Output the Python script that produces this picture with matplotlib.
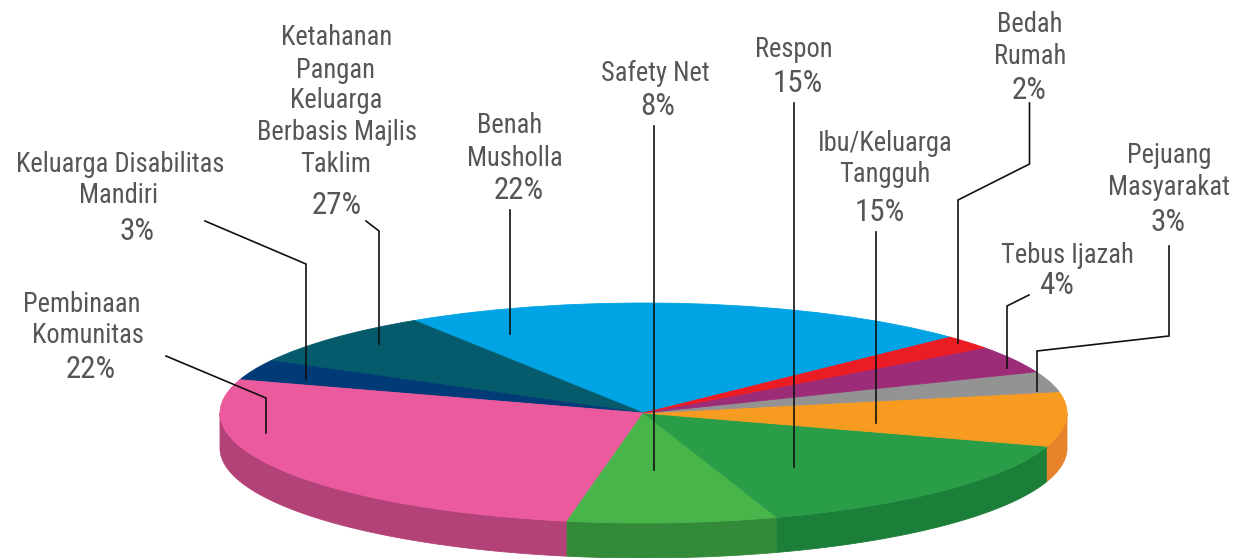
import numpy as np
import matplotlib
matplotlib.use("Agg")
import matplotlib.pyplot as plt
from matplotlib import font_manager

# ---------------- data ----------------
categories = ["Benah Musholla", "Ketahanan Pangan Keluarga Berbasis Majlis Taklim",
              "Keluarga Disabilitas Mandiri", "Pembinaan Komunitas", "Safety Net",
              "Respon", "Ibu/Keluarga Tangguh", "Pejuang Masyarakat", "Tebus Ijazah",
              "Bedah Rumah"]
slice_values = [22, 8, 3, 27, 8, 15, 8, 3, 4, 2]          # slice sizes as drawn
label_pcts = [22, 27, 3, 22, 8, 15, 15, 3, 4, 2]          # percentages printed in labels
label_lines = [["Benah", "Musholla"],
               ["Ketahanan", "Pangan", "Keluarga", "Berbasis Majlis", "Taklim"],
               ["Keluarga Disabilitas", "Mandiri"],
               ["Pembinaan", "Komunitas"],
               ["Safety Net"],
               ["Respon"],
               ["Ibu/Keluarga", "Tangguh"],
               ["Pejuang", "Masyarakat"],
               ["Tebus Ijazah"],
               ["Bedah", "Rumah"]]

# ---------------- style ----------------
top_colors = ["#00A3E3", "#055B6B", "#003B78", "#EC5A9E", "#48B54A",
              "#2A9D48", "#F89C21", "#939393", "#9C2B78", "#EC1C24"]
side_colors = ["#0082B6", "#044856", "#002F60", "#B34278", "#338A38",
               "#1C7F39", "#E6822A", "#767676", "#7D2260", "#BD161D"]
text_color = "#555659"

names = {f.name for f in font_manager.fontManager.ttflist}
if "Roboto Condensed" in names:
    FAMILY, FS = "Roboto Condensed", 19.1
elif "Liberation Sans Narrow" in names:
    FAMILY, FS = "Liberation Sans Narrow", 20
else:
    FAMILY, FS = "Liberation Sans", 16.5
FS_PCT = FS * 1.17

W, H = 1233, 558
fig = plt.figure(figsize=(W / 100, H / 100), dpi=100)

# pie geometry (pixels)
cx, cy, a, b, depth = 643.5, 413.0, 423.5, 110.0, 35.0
ax = fig.add_axes([(cx - a) / W, 1 - (cy + b) / H, 2 * a / W, 2 * b / H])
wedges, _ = ax.pie(slice_values, colors=top_colors, startangle=43.6,
                   counterclock=True, radius=1)
for w, c in zip(wedges, top_colors):
    w.set_edgecolor(c)
    w.set_linewidth(0.6)
ax.set_xlim(-1, 1)
ax.set_ylim(-1, 1)
ax.set_aspect("auto")
ax.axis("off")

# side walls (front half only), derived from wedge angles
d = depth / b
for w, sc in zip(wedges, side_colors):
    t1, t2 = w.theta1, w.theta2
    for k in (-1, 0, 1):
        lo = max(t1, 180 + 360 * k)
        hi = min(t2, 360 + 360 * k)
        if hi > lo:
            t = np.radians(np.linspace(lo, hi, 200))
            xs = np.concatenate([np.cos(t), np.cos(t[::-1])])
            ys = np.concatenate([np.sin(t), np.sin(t[::-1]) - d])
            ax.fill(xs, ys, color=sc, lw=0.6, ec=sc, clip_on=False, zorder=0)

# overlay axes in pixel coordinates for labels and leader lines
ov = fig.add_axes([0, 0, 1, 1])
ov.set_xlim(0, W)
ov.set_ylim(H, 0)
ov.axis("off")
ov.set_zorder(3)

# label layout: per line (x center, baseline)
layout = [
    [(510, 133), (515, 166), (519, 199)],
    [(337, 45), (336, 78), (336, 108), (337, 140), (336, 172), (337, 214)],
    [(120, 172), (119, 203), (137, 240)],
    [(82, 312), (88, 343), (91, 378)],
    [(655, 81), (658, 115)],
    [(794, 57), (798, 92)],
    [(885, 151), (885, 182), (880, 221)],
    [(1169, 163), (1169, 195), (1168, 231)],
    [(1067, 263), (1057, 294)],
    [(1030, 32), (1030, 64), (1029, 99)],
]
leaders = [
    [(509.5, 210), (509.5, 334)],
    [(366, 221), (379, 231), (379, 344)],
    [(205, 221), (306, 264), (306, 380)],
    [(166, 356), (266, 398), (266, 433)],
    [(654, 126), (654, 470)],
    [(794, 103), (794, 467)],
    [(876, 232), (876, 423)],
    [(1169, 246), (1169, 336), (1037, 351), (1037, 391)],
    [(1029, 295), (1007, 306), (1007, 368)],
    [(1029.5, 103), (1029.5, 164), (958, 200), (958, 343)],
]

for lines, pct, pos, ld in zip(label_lines, label_pcts, layout, leaders):
    for s, (x, y) in zip(lines, pos[:-1]):
        ov.text(x, y, s, ha="center", va="baseline", fontsize=FS,
                family=FAMILY, color=text_color)
    x, y = pos[-1]
    ov.text(x, y, f"{pct}%", ha="center", va="baseline", fontsize=FS_PCT,
            family=FAMILY, color=text_color)
    xs, ys = zip(*ld)
    ov.plot(xs, ys, color="#111111", lw=1.2, solid_joinstyle="miter")

fig.savefig("out.png", dpi=100)
